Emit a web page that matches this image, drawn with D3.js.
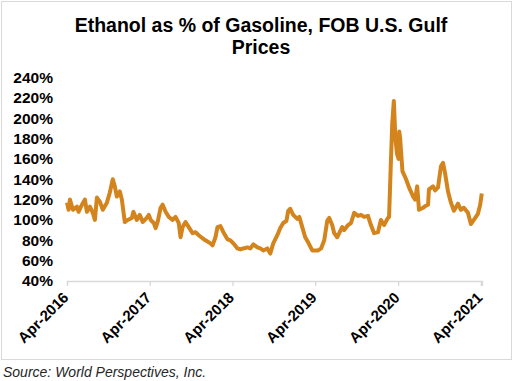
<!DOCTYPE html>
<html>
<head>
<meta charset="utf-8">
<script src="https://cdn.jsdelivr.net/npm/d3@7"></script>
<style>
  body { margin: 0; background: #fff; }
  svg { font-family: "Liberation Sans", Arial, sans-serif; }
</style>
</head>
<body>
<div class="graph"></div>
<script>
// ethanol price as % of gasoline, FOB US Gulf
const dates = [
  "2016-04-01","2016-04-08","2016-04-14","2016-04-27","2016-05-15","2016-05-22","2016-06-06","2016-06-19",
  "2016-06-28","2016-07-11","2016-07-24","2016-08-02","2016-08-11","2016-08-24","2016-09-06","2016-09-24",
  "2016-10-07","2016-10-20","2016-10-29","2016-11-07","2016-11-20","2016-11-29","2016-12-12","2016-12-25",
  "2017-01-12","2017-01-19","2017-02-03","2017-02-16","2017-03-01","2017-03-19","2017-03-28","2017-04-05",
  "2017-04-19","2017-04-27","2017-05-06","2017-05-19","2017-05-28","2017-06-10","2017-06-24","2017-07-11",
  "2017-07-24","2017-08-07","2017-08-15","2017-08-24","2017-09-06","2017-09-20","2017-10-07","2017-10-20",
  "2017-11-03","2017-11-20","2017-12-03","2017-12-25","2018-01-03","2018-01-16","2018-01-25","2018-02-07",
  "2018-02-20","2018-03-10","2018-03-23","2018-04-05","2018-04-23","2018-05-06","2018-05-19","2018-06-06",
  "2018-06-19","2018-07-02","2018-07-20","2018-08-02","2018-08-15","2018-09-02","2018-09-15","2018-09-28",
  "2018-10-16","2018-10-29","2018-11-11","2018-11-25","2018-12-03","2018-12-12","2018-12-25","2019-01-12",
  "2019-01-21","2019-02-03","2019-02-16","2019-03-01","2019-03-19","2019-04-14","2019-04-27","2019-05-11",
  "2019-05-24","2019-06-02","2019-06-15","2019-06-24","2019-07-07","2019-07-16","2019-07-29","2019-08-07",
  "2019-08-24","2019-09-06","2019-09-20","2019-10-07","2019-10-20","2019-11-03","2019-11-20","2019-12-03",
  "2019-12-17","2020-01-03","2020-01-16","2020-01-30","2020-02-16","2020-02-21","2020-02-28","2020-03-06",
  "2020-03-13","2020-03-20","2020-03-27","2020-04-03","2020-04-06","2020-04-10","2020-04-13","2020-04-20",
  "2020-05-06","2020-05-19","2020-06-06","2020-06-15","2020-06-24","2020-07-02","2020-07-20","2020-08-02",
  "2020-08-11","2020-08-15","2020-09-02","2020-09-11","2020-09-24","2020-10-07","2020-10-16","2020-10-25",
  "2020-11-07","2020-11-20","2020-12-03","2020-12-21","2021-01-03","2021-01-16","2021-02-03","2021-02-16",
  "2021-03-01","2021-03-19","2021-03-29","2021-04-05"
];
const ratio = [
  117,110,120,110,113,108,115,120,
  108,113,107,100,122,118,110,117,
  127,140,133,123,128,120,98,100,
  102,108,100,105,98,102,105,100,
  97,92,98,112,115,108,103,100,
  103,97,83,93,98,93,87,88,
  85,82,80,77,75,83,93,94,
  88,81,80,77,72,71,72,73,
  72,76,73,72,70,72,67,77,
  85,92,97,99,109,111,105,101,
  103,93,83,78,70,70,72,80,
  99,102,95,87,83,87,93,90,
  95,97,107,104,105,103,104,95,
  87,88,100,95,102,103,150,195,
  217,180,165,160,187,180,170,148,
  140,132,123,120,133,110,112,114,
  115,130,133,129,132,153,156,146,
  128,117,109,116,110,112,107,96,
  100,106,115,126
];
const yTicks = [40, 60, 80, 100, 120, 140, 160, 180, 200, 220, 240];
const xTicks = ["2016-04-01","2017-04-01","2018-04-01","2019-04-01","2020-04-01","2021-04-01"];
const titleLines = ["Ethanol as % of Gasoline, FOB U.S. Gulf", "Prices"];
const source = "Source: World Perspectives, Inc.";

let W = 515, H = 381;
let parse = d3.timeParse("%Y-%m-%d");
let data = dates.map((d, i) => ({date: parse(d), v: ratio[i]}));

let svg = d3.select(".graph").append("svg")
    .attr("width", W)
    .attr("height", H);

// chart frame
svg.append("rect")
    .attr("x", 1.5).attr("y", 1.5)
    .attr("width", 510).attr("height", 358)
    .attr("fill", "none")
    .attr("stroke", "#d9d9d9");

svg.selectAll(".title")
    .data(titleLines)
    .enter().append("text")
    .attr("class", "title")
    .attr("x", 261)
    .attr("y", (d, i) => 32 + i * 22)
    .attr("text-anchor", "middle")
    .style("font-size", "19.5px")
    .style("font-weight", "bold")
    .text(d => d);

let x = d3.scaleTime()
    .domain([parse("2016-04-01"), parse("2021-04-06")])
    .range([67, 482]);

let y = d3.scaleLinear()
    .domain([40, 240])
    .range([281, 77.5]);

// y axis: labels only
let yAxis = svg.append("g")
    .attr("transform", "translate(53,0)")
    .call(d3.axisLeft(y)
        .tickValues(yTicks)
        .tickFormat(d => d + "%")
        .tickSize(0)
        .tickPadding(0));
yAxis.select(".domain").remove();
yAxis.selectAll("text")
    .style("font-size", "15.5px")
    .style("font-weight", "bold")
    .attr("fill", "#000")
    .style("font-family", "'Liberation Sans', Arial, sans-serif");

// x axis
let xAxis = svg.append("g")
    .attr("transform", "translate(0," + y(40) + ")")
    .call(d3.axisBottom(x)
        .tickValues(xTicks.map(parse))
        .tickFormat(d3.timeFormat("%b-%Y"))
        .tickSizeOuter(0)
        .tickSize(5));
xAxis.select(".domain").attr("stroke", "#d9d9d9").style("stroke-width", "1.3px");
xAxis.selectAll(".tick line").attr("stroke", "#d9d9d9").style("stroke-width", "1.3px");
xAxis.selectAll("text")
    .style("font-size", "15px")
    .style("font-weight", "bold")
    .style("font-family", "'Liberation Sans', Arial, sans-serif")
    .attr("fill", "#000")
    .attr("text-anchor", "end")
    .attr("x", 0)
    .attr("y", 0)
    .attr("dy", 0)
    .attr("transform", "translate(2,17.5) rotate(-45)");

// the series
let line = d3.line()
    .x(d => x(d.date))
    .y(d => y(d.v));

svg.append("path")
    .datum(data)
    .attr("d", line)
    .attr("fill", "none")
    .attr("stroke", "#d4841c")
    .attr("stroke-linejoin", "round")
    .style("stroke-width", "4px");

svg.append("text")
    .attr("x", 3)
    .attr("y", 377)
    .style("font-size", "14px")
    .style("font-style", "italic")
    .attr("fill", "#262626")
    .text(source);
</script>
</body>
</html>
